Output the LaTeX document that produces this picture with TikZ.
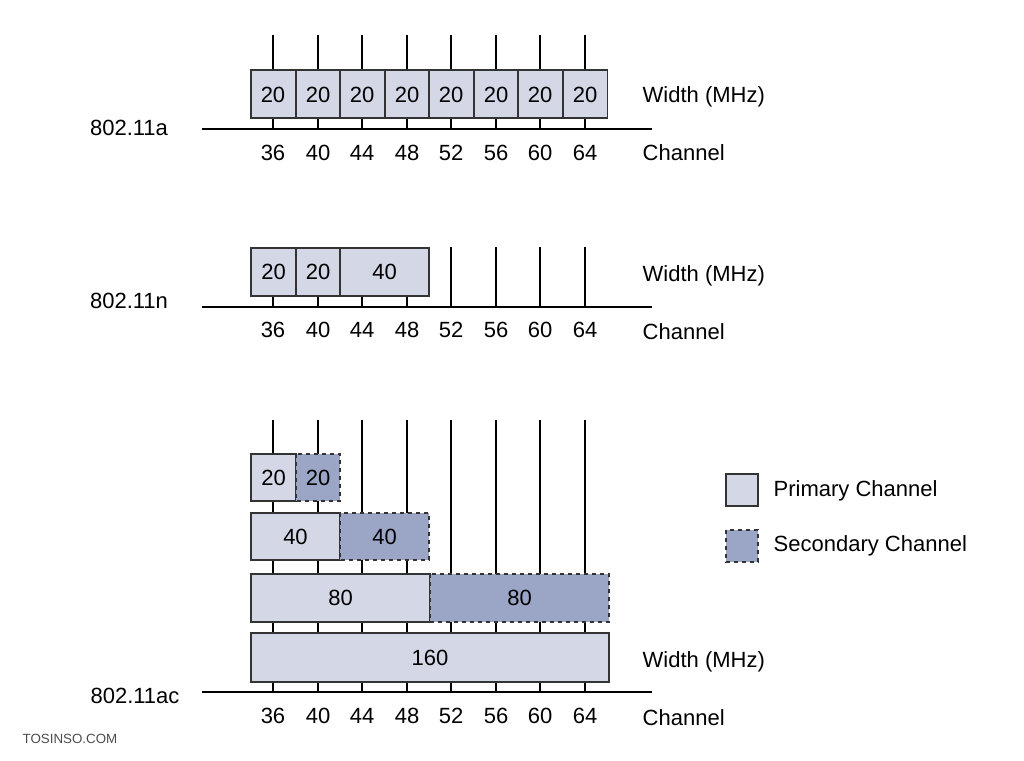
\documentclass[tikz,border=0pt]{standalone}
\usepackage{fontspec}
\setmainfont{Liberation Sans}
\begin{document}
\begin{tikzpicture}[x=0.75pt,y=-0.75pt,
  prim/.style={draw=black!80,fill={rgb,255:red,211;green,215;blue,230},line width=0.9pt},
  sec/.style={draw=black!80,dashed,fill={rgb,255:red,155;green,166;blue,199},line width=0.9pt},
  lbl/.style={font=\fontsize{16.5}{19}\selectfont},
  ln/.style={line width=0.8pt}]
\useasboundingbox (0,0) rectangle (1024,760);
\def\chans{273/36,318/40,362/44,407/48,451/52,496/56,540/60,585/64}
% 802.11a
\foreach \x/\c in \chans {\draw[ln] (\x,35) -- (\x,129); \node[lbl] (a\c) at (\x,153) {\c};}
\draw[ln] (202,129) -- (652,129);
\foreach \x in {251,296,340,385,429,474,518,563} {\draw[prim] (\x,70) rectangle +(44.5,48); \node[lbl] at (\x+22,95) {20};}
\node[lbl,anchor=west] (aw) at (638,97) {Width (MHz)};
\node[lbl,anchor=west] (ac) at (638,153) {Channel};
\node[lbl] (at) at (129,128) {802.11a};
% 802.11n
\foreach \x/\c in \chans {\draw[ln] (\x,247) -- (\x,307); \node[lbl] (n\c) at (\x,330) {\c};}
\draw[ln] (202,307) -- (652,307);
\draw[prim] (251,248) rectangle node[lbl]{20} (296,296);
\draw[prim] (296,248) rectangle node[lbl]{20} (340,296);
\draw[prim] (340,248) rectangle node[lbl]{40} (429,296);
\node[lbl,anchor=west] (nw) at (638,276) {Width (MHz)};
\node[lbl,anchor=west] (nc) at (638,332) {Channel};
\node[lbl] (nt) at (129,301) {802.11n};
% 802.11ac
\foreach \x/\c in \chans {\draw[ln] (\x,420) -- (\x,692); \node[lbl] (c\c) at (\x,716) {\c};}
\draw[ln] (202,692) -- (652,692);
\draw[prim] (251,454) rectangle node[lbl]{20} (296,501);
\draw[sec] (296,454) rectangle node[lbl]{20} (340,501);
\draw[prim] (251,513) rectangle node[lbl]{40} (340,560);
\draw[sec] (340,513) rectangle node[lbl]{40} (429,560);
\draw[prim] (251,574) rectangle node[lbl]{80} (430,622);
\draw[sec] (430,574) rectangle node[lbl]{80} (609,622);
\draw[prim] (251,633) rectangle node[lbl]{160} (609,682);
\node[lbl,anchor=west] (cw) at (638,662) {Width (MHz)};
\node[lbl,anchor=west] (cc) at (638,718) {Channel};
\node[lbl] (ct) at (135,696) {802.11ac};
% legend
\draw[prim] (726,474) rectangle (758,506);
\draw[sec] (726,530) rectangle (758,562);
\node[lbl,anchor=west] (lp) at (769,491) {Primary Channel};
\node[lbl,anchor=west] (ls) at (769,546) {Secondary Channel};
\node[font=\fontsize{10}{12}\selectfont,text=black!70] (wm) at (70,739) {TOSINSO.COM};
\end{tikzpicture}
\end{document}
